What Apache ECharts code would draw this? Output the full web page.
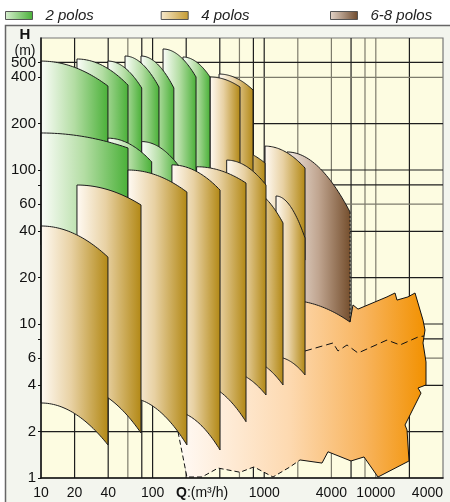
<!DOCTYPE html>
<html><head><meta charset="utf-8">
<script src="https://cdn.jsdelivr.net/npm/echarts@6/dist/echarts.min.js"></script>
<style>html,body{margin:0;padding:0;background:#fff;}#c{width:450px;height:502px;}</style>
</head><body><div id="c"></div>
<script>
// ---------------- DATA ----------------
const xTickValues = [10, 20, 40, 100, 1000, 4000, 10000, 40000];
const xTickText   = ['10', '20', '40', '100', '1000', '4000', '10000', '4000'];
const yTickValues = [1, 2, 4, 6, 8, 10, 20, 40, 60, 80, 100, 200, 400, 500];
const yLabelValues = [1, 2, 4, 6, 10, 20, 40, 60, 100, 200, 400, 500];
const xGridDark  = [20, 40, 80, 100, 200, 400, 800, 1000, 6000, 20000];
const xGridLight = [60, 600, 2000, 4000, 8000, 10000];
const yGridDark  = [2, 4, 8, 10, 20, 40, 80, 100, 200, 500];
const yGridLight = [6, 60, 400];

// cards: [Q left, Q right, H top-left, H top-right, H bottom-left, H bottom-right]
const green2Upper = [
  [10, 39.8, 510, 351, 116, 100],
  [21.0, 60.2, 526, 356, 116, 100],
  [39.8, 79.9, 510, 341, 100, 92.8],
  [56.6, 114, 550, 346, 92.8, 79.9],
  [78.7, 155, 550, 341, 86.1, 79.9],
  [124, 245, 611, 402, 79.9, 74.1],
  [187, 327, 542, 402, 79.9, 74.1]
];
const green2Lower = [
  [10, 60.2, 174, 139, 32.6, 37.8],
  [39.8, 98.1, 161, 113, 47.4, 47.4],
  [79.9, 169, 153, 108, 55, 55]
];
const tan4Upper = [
  [327, 607, 402, 346, 68.8, 63.9],
  [394, 794, 420, 331, 68.8, 63.9],
  [474, 1017, 139, 111, 63.9, 59.3],
  [1017, 2321, 143, 103, 30.2, 26.0]
];
const tan4Lower = [
  [10, 39.8, 43.3, 27.2, 3.07, 1.64],
  [21.0, 78.7, 79.9, 59.3, 3.90, 1.96],
  [60.2, 203, 100, 71.9, 3.32, 1.64],
  [149, 402, 108, 74.1, 2.73, 1.52],
  [248, 687, 105, 82.3, 4.14, 2.32],
  [461, 1038, 116, 79.9, 4.95, 3.46],
  [673, 1474, 76.4, 45.3, 5.93, 4.02],
  [1276, 2321, 67.8, 36.2, 6.11, 4.67]
];
const brown68 = [
  [1601, 5872, 131, 53.4, 14.3, 10.3]
];
// large-pump (orange) field outline, [Q, H]
const orangeDashedEdge = [[169,1.99],[203,1.015],[277,1.015],[386,1.16],[607,1.09],[810,1.18],[1199,1.015],[1703,1.18],[2094,1.31]];
const orangeSolidEdge = [[2094,1.31],[3296,1.25],[3729,1.48],[5995,1.29],[7841,1.37],[10464,1.015],[19841,1.29],[19040,2.05],[18269,2.21],[25410,3.56],[23880,3.84],[28173,4.02],[28173,5.67],[26479,7.53],[27600,9.14],[26479,10.6],[22458,15.9],[19432,15.0],[15488,14.3],[14860,15.9],[12600,15.0],[6927,12.5],[6246,13.3],[5872,10.3]];
const orangeHiddenEdge = [[3887,14.3],[2094,16.6],[1386,14.3],[746,9.14],[266,4.33],[176,3.21]];
const orangeInnerDash = [[2321,6.68],[4135,7.53],[4585,6.68],[5520,7.31],[6927,6.48],[12600,7.87],[16475,7.31],[23880,8.23],[27030,8.36]];

// ---------------- STYLE ----------------
const FONT = 'Liberation Sans';
const GREEN = [[0,'#fbfdf9'],[0.5,'#b3dda3'],[1,'#4bb139']];
const TAN = [[0,'#fffaf3'],[0.45,'#e8d1a3'],[1,'#b38916']];
const BROWN = [[0,'#f2e9e2'],[0.5,'#c0a590'],[1,'#76502f']];
const ORANGE = [[0,'#fffaf6'],[0.45,'#fdd9b0'],[0.75,'#f8b45e'],[1,'#f29100']];
function hGrad(a){ return {type:'linear', x:0, y:0, x2:1, y2:0, colorStops: a.map(s=>({offset:s[0], color:s[1]}))}; }

function gridSeries(values, vertical, color){
  return {
    type:'custom', silent:true, animation:false,
    data: values.map(v => vertical ? [v, 1] : [10, v]),
    renderItem: function(params, api){
      const cs = params.coordSys;
      const p = api.coord([api.value(0), api.value(1)]);
      const shape = vertical
        ? {x1:p[0], y1:cs.y, x2:p[0], y2:cs.y+cs.height}
        : {x1:cs.x, y1:p[1], x2:cs.x+cs.width, y2:p[1]};
      return {type:'line', shape: shape, style:{stroke:color, lineWidth:1.2}};
    }
  };
}

function cardSeries(name, cards, colors, dashRight){
  return {
    type:'custom', name: name, silent:true, animation:false, clip:false,
    itemStyle:{color: hGrad(colors)},
    data: cards.slice().reverse(),
    renderItem: function(params, api){
      const q1 = api.value(0), q2 = api.value(1);
      const tl = api.coord([q1, api.value(2)]), tr = api.coord([q2, api.value(3)]);
      const bl = api.coord([q1, api.value(4)]), br = api.coord([q2, api.value(5)]);
      const n = 32, top = [], bot = [];
      for (let i = 0; i <= n; i++){
        const t = i / n, x = tl[0] + (tr[0] - tl[0]) * t;
        top.push([x, tl[1] + (tr[1] - tl[1]) * t * t]);
        bot.push([x, bl[1] + (br[1] - bl[1]) * t * t]);
      }
      const botRev = bot.slice().reverse();
      return {type:'group', children:[
        {type:'polygon', shape:{points: top.concat(botRev)}, style:{fill: hGrad(colors), stroke:null}},
        {type:'polyline', shape:{points: botRev.concat(top)}, style:{fill:'none', stroke:'#1c1c1c', lineWidth:1}},
        {type:'line', shape:{x1:tr[0], y1:tr[1], x2:br[0], y2:br[1]}, style:{stroke:'#1c1c1c', lineWidth:1, lineDash: dashRight ? [2,2] : null}}
      ]};
    }
  };
}

function edgeSeries(points, dash){
  return {type:'line', data: points, symbol:'none', silent:true, animation:false, clip:false,
    lineStyle:{color:'#111', width:1, type: dash || 'solid'}, emphasis:{disabled:true}};
}

function legendItem(name, colors, left){
  return {data:[{name:name, itemStyle:{color: hGrad(colors), borderColor:'#555', borderWidth:1}}],
    left:left, top:8, padding:0, itemWidth:27, itemHeight:8, icon:'rect', selectedMode:false,
    textStyle:{fontFamily:FONT, fontSize:15, fontStyle:'italic', color:'#222', padding:[0,0,0,8]}};
}

const chart = echarts.init(document.getElementById('c'));
chart.setOption({
  animation:false,
  legend:[
    legendItem('2 polos', [[0,'#d9efd1'],[1,'#48b037']], 5),
    legendItem('4 polos', [[0,'#f7e9cd'],[1,'#c49a30']], 160.7),
    legendItem('6-8 polos', [[0,'#e5d6ca'],[1,'#6e4a2d']], 330)
  ],
  graphic:[
    {type:'rect', z:-5, shape:{x:5.5, y:25.5, width:470, height:500}, style:{fill:'#f3f5ee', stroke:'#666', lineWidth:1.5}},
    {type:'text', x:25, y:35, style:{text:'H', font:'bold 15px "Liberation Sans"', fill:'#111', align:'center', verticalAlign:'middle'}},
    {type:'text', x:25, y:51, style:{text:'(m)', font:'14px "Liberation Sans"', fill:'#111', align:'center', verticalAlign:'middle'}},
    {type:'text', x:176, y:493, style:{text:'{q|Q}:(m³/h)', font:'14px "Liberation Sans"', fill:'#111', verticalAlign:'middle',
      rich:{q:{fontWeight:'bold', fontSize:14, fontFamily:FONT}}}}
  ],
  grid:{left:41, right:7, top:38, bottom:24, show:true, backgroundColor:'#fdfce1', borderColor:'#777', borderWidth:1.2},
  xAxis:{type:'log', logBase:10, min:10, max:40000, z:10,
    axisLine:{show:true, lineStyle:{color:'#111', width:1.5}},
    axisTick:{show:false}, splitLine:{show:false}, minorTick:{show:false},
    axisLabel:{customValues: xTickValues, fontFamily:FONT, fontSize:14, color:'#111', margin:8, alignMaxLabel:'right',
      formatter: function(v){ for (let i = 0; i < xTickValues.length; i++){ if (Math.abs(v - xTickValues[i]) / xTickValues[i] < 1e-6) return xTickText[i]; } return ''; }}
  },
  yAxis:{type:'log', logBase:10, min:1, max:720, z:10,
    axisLine:{show:true, lineStyle:{color:'#111', width:1.5}},
    axisTick:{show:true, customValues: yTickValues, length:3, lineStyle:{color:'#111'}},
    splitLine:{show:false}, minorTick:{show:false},
    axisLabel:{customValues: yLabelValues, fontFamily:FONT, fontSize:15, color:'#111', margin:5,
      formatter: function(v){ return String(Math.round(v)); }}
  },
  series:[
    gridSeries(xGridLight, true, '#7d7b6c'),
    gridSeries(xGridDark, true, '#1e1e1e'),
    gridSeries(yGridLight, false, '#7d7b6c'),
    gridSeries(yGridDark, false, '#1e1e1e'),
    {type:'custom', silent:true, animation:false, clip:false,
      data:[orangeDashedEdge[0]],
      renderItem: function(params, api){
        const pts = orangeDashedEdge.concat(orangeSolidEdge.slice(1), orangeHiddenEdge).map(p => api.coord(p));
        return {type:'polygon', shape:{points: pts}, style:{fill: hGrad(ORANGE), stroke:null}};
      }},
    edgeSeries(orangeDashedEdge, [5,3]),
    edgeSeries(orangeSolidEdge),
    edgeSeries(orangeInnerDash, [7,4]),
    cardSeries('6-8 polos', brown68, BROWN, true),
    cardSeries('4 polos', tan4Upper, TAN),
    cardSeries('2 polos', green2Upper, GREEN),
    cardSeries('2 polos', green2Lower, GREEN),
    cardSeries('4 polos', tan4Lower, TAN)
  ]
});
</script>
</body></html>
